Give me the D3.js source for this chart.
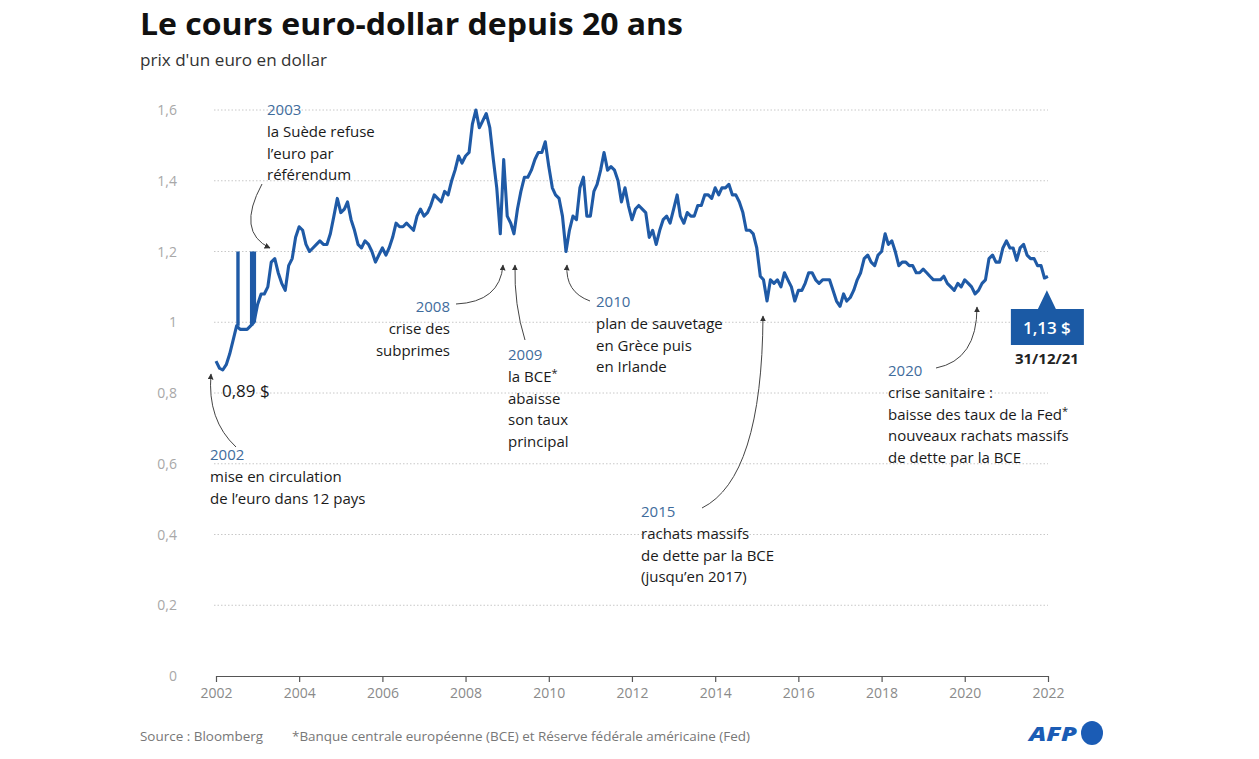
<!DOCTYPE html>
<html><head><meta charset="utf-8">
<script src="https://cdn.jsdelivr.net/npm/d3@7"></script>
<style>body{margin:0;background:#fff}svg{display:block}</style>
</head><body><svg id="c" width="1259" height="759"></svg>
<script>
// ---------- DATA ----------
const firstMonth = "2002-01-01";
const rates = [
 0.89,0.87,0.865,0.88,0.91,0.95,0.99,0.98,0.98,0.98,0.99,1.00,
 1.05,1.08,1.08,1.10,1.17,1.18,1.14,1.11,1.09,1.16,1.18,1.24,
 1.27,1.26,1.22,1.20,1.21,1.22,1.23,1.22,1.22,1.25,1.30,1.35,
 1.31,1.32,1.34,1.29,1.26,1.22,1.21,1.23,1.22,1.20,1.17,1.19,
 1.21,1.19,1.21,1.24,1.28,1.27,1.27,1.28,1.27,1.26,1.30,1.32,
 1.30,1.31,1.33,1.36,1.35,1.34,1.37,1.36,1.40,1.43,1.47,1.45,
 1.47,1.48,1.56,1.60,1.55,1.57,1.59,1.55,1.46,1.38,1.25,1.46,
 1.30,1.28,1.25,1.32,1.37,1.41,1.41,1.43,1.46,1.48,1.48,1.51,
 1.44,1.38,1.36,1.35,1.30,1.20,1.26,1.30,1.29,1.38,1.41,1.30,
 1.30,1.37,1.39,1.43,1.48,1.43,1.44,1.43,1.40,1.34,1.38,1.33,
 1.29,1.32,1.33,1.32,1.31,1.24,1.26,1.22,1.26,1.29,1.30,1.28,
 1.32,1.36,1.30,1.28,1.31,1.30,1.30,1.33,1.33,1.36,1.36,1.35,
 1.38,1.36,1.38,1.38,1.39,1.36,1.36,1.34,1.31,1.26,1.26,1.25,
 1.21,1.13,1.12,1.06,1.12,1.11,1.12,1.10,1.14,1.12,1.10,1.06,
 1.09,1.09,1.11,1.14,1.14,1.12,1.11,1.12,1.12,1.12,1.09,1.06,
 1.045,1.08,1.06,1.07,1.09,1.12,1.14,1.18,1.19,1.17,1.16,1.19,
 1.20,1.25,1.22,1.23,1.20,1.16,1.17,1.17,1.16,1.16,1.14,1.14,
 1.15,1.14,1.13,1.12,1.12,1.12,1.13,1.11,1.10,1.09,1.11,1.10,
 1.12,1.11,1.10,1.08,1.09,1.11,1.12,1.18,1.19,1.17,1.17,1.21,
 1.23,1.21,1.21,1.175,1.21,1.22,1.19,1.18,1.18,1.16,1.16,1.125
];
const lastDate = "2021-12-31";
const lastRate = 1.13;
const spikeDates = ["2002-07-13","2002-11-10","2002-12-04"];
const spikeBase = [0.99, 0.99, 1.00];
const spikeTop = 1.2;
const yTicks = [0,0.2,0.4,0.6,0.8,1,1.2,1.4,1.6];
const xTickYears = [2002,2004,2006,2008,2010,2012,2014,2016,2018,2020,2022];
const titleText = "Le cours euro-dollar depuis 20 ans";
const subtitleText = "prix d'un euro en dollar";
const sourceText = "Source : Bloomberg";
const noteText = "*Banque centrale européenne (BCE) et Réserve fédérale américaine (Fed)";
const startLabel = "0,89 $";
const endLabel = "1,13 $";
const endDateLabel = "31/12/21";
const annYears = ["2002","2003","2008","2009","2010","2015","2020"];
const annLines = [
 ["mise en circulation","de l\u2019euro dans 12 pays"],
 ["la Suède refuse","l\u2019euro par","référendum"],
 ["crise des","subprimes"],
 ["la BCE*","abaisse","son taux","principal"],
 ["plan de sauvetage","en Grèce puis","en Irlande"],
 ["rachats massifs","de dette par la BCE","(jusqu\u2019en 2017)"],
 ["crise sanitaire :","baisse des taux de la Fed*","nouveaux rachats massifs","de dette par la BCE"]
];

// ---------- LAYOUT ----------
const annLayout = [
 {x:210,y:460,anchor:"start", arrow:[[236,447],[207,420],[211,374]]},
 {x:267,y:115,anchor:"start", arrow:[[262,184],[236,232],[270,248]]},
 {x:450,y:312,anchor:"end",   arrow:[[456,304],[500,302],[503,265]]},
 {x:508,y:360,anchor:"start", arrow:[[525,340],[514,305],[515,265]]},
 {x:596,y:307,anchor:"start", arrow:[[590,301],[565,292],[567,265]]},
 {x:641,y:517,anchor:"start", arrow:[[702,508],[762,478],[763,316]]},
 {x:888,y:376,anchor:"start", arrow:[[936,368],[977,360],[977,307]]}
];
const lineH = 21.8;
const blue = "#1f5aa6", yearBlue = "#3f6c9c", ink = "#1a1a1a";
const FONT = "'Open Sans', 'Noto Sans', sans-serif";

const svg = d3.select("#c");
const parse = d3.utcParse("%Y-%m-%d");
const x = d3.scaleUtc().domain([parse("2002-01-01"), parse("2022-01-01")]).range([216,1048]);
const y = d3.scaleLinear().domain([0,1.6]).range([676,110]);

const series = rates.map((v,i)=>({date:d3.utcMonth.offset(parse(firstMonth), i), v}));
series.push({date:parse(lastDate), v:lastRate});

svg.append("defs").append("marker").attr("id","ah").attr("viewBox","0 0 10 10")
 .attr("refX",9).attr("refY",5).attr("markerWidth",6).attr("markerHeight",6)
 .attr("orient","auto").attr("markerUnits","userSpaceOnUse")
 .append("path").attr("d","M0,0L10,5L0,10z").attr("fill","#333");

// title
svg.append("text").attr("x",140).attr("y",35).text(titleText)
 .attr("font-family",FONT).attr("font-weight",700).attr("font-size",30).attr("fill","#111")
 .attr("textLength",543).attr("lengthAdjust","spacingAndGlyphs");
svg.append("text").attr("x",140).attr("y",66).text(subtitleText)
 .attr("font-family",FONT).attr("font-size",15.5).attr("fill","#333")
 .attr("textLength",187).attr("lengthAdjust","spacingAndGlyphs");

// grid
svg.append("g").selectAll("line").data(yTicks.filter(d=>d>0)).join("line")
 .attr("x1",214).attr("x2",1048).attr("y1",d=>y(d)).attr("y2",d=>y(d))
 .attr("stroke","#c8c8c8").attr("stroke-width",1).attr("stroke-dasharray","1.5,2");

// y labels
svg.append("g").selectAll("text").data(yTicks).join("text")
 .attr("x",177).attr("y",d=>y(d)+5).attr("text-anchor","end")
 .attr("font-family",FONT).attr("font-size",14).attr("fill","#a8a8a8")
 .text(d=>d3.format(".1f")(d).replace(/\.0$/,"").replace(".",","));

// x axis
const xAxis = d3.axisBottom(x).tickValues(xTickYears.map(yr=>parse(yr+"-01-01")))
 .tickFormat(d3.utcFormat("%Y")).tickSize(6).tickSizeOuter(0);
const gx = svg.append("g").attr("transform",`translate(0,${y(0)})`).call(xAxis);
gx.select(".domain").attr("stroke","#555").attr("stroke-width",1.2);
gx.selectAll(".tick line").attr("stroke","#555").attr("stroke-width",1.2);
gx.selectAll(".tick text").attr("font-family",FONT).attr("font-size",14).attr("fill","#8a8a8a").attr("dy","0.95em");

// spikes
svg.append("g").selectAll("line").data(spikeDates.map((d,i)=>({date:parse(d),b:spikeBase[i]}))).join("line")
 .attr("x1",d=>x(d.date)).attr("x2",d=>x(d.date)).attr("y1",d=>y(d.b)).attr("y2",y(spikeTop))
 .attr("stroke",blue).attr("stroke-width",3.4);

// line
svg.append("path").datum(series)
 .attr("d",d3.line().x(d=>x(d.date)).y(d=>y(d.v)))
 .attr("fill","none").attr("stroke",blue).attr("stroke-width",3.1).attr("stroke-linejoin","round");

// annotations
function addText(g, t, xx, yy, anchor, fill){
  const el = g.append("text").attr("x",xx).attr("y",yy).attr("text-anchor",anchor)
   .attr("font-family",FONT).attr("font-size",15).attr("fill",fill);
  if (t.endsWith("*")) {
    el.append("tspan").text(t.slice(0,-1));
    el.append("tspan").attr("dy",-5).attr("font-size",11).text("*");
  } else el.text(t);
}
annLayout.forEach((L,i)=>{
  const g = svg.append("g");
  addText(g, annYears[i], L.x, L.y, L.anchor, yearBlue);
  annLines[i].forEach((t,j)=> addText(g, t, L.x, L.y+lineH*(j+1), L.anchor, ink));
  const [s,c,e] = L.arrow;
  g.append("path").attr("d",`M${s[0]},${s[1]}Q${c[0]},${c[1]} ${e[0]},${e[1]}`)
   .attr("fill","none").attr("stroke","#444").attr("stroke-width",1)
   .attr("marker-end","url(#ah)");
});

// start label
svg.append("text").attr("x",222).attr("y",397).text(startLabel)
 .attr("font-family",FONT).attr("font-size",17).attr("fill",ink);

// end box
const bx = x(parse(lastDate)) - 1, ey = y(lastRate);
const by = 309;
svg.append("path").attr("d",`M${bx-36},${by}H${bx-9}L${bx},${ey+14}L${bx+9},${by}H${bx+37}V${by+36}H${bx-36}Z`)
 .attr("fill","#1b5aa5");
svg.append("text").attr("x",bx).attr("y",by+25).attr("text-anchor","middle")
 .attr("font-family",FONT).attr("font-size",17).attr("font-weight",600).attr("fill","#fff").text(endLabel);
svg.append("text").attr("x",bx).attr("y",by+55).attr("text-anchor","middle")
 .attr("font-family",FONT).attr("font-size",15).attr("font-weight",700).attr("fill","#222").text(endDateLabel);

// footer
svg.append("text").attr("x",140).attr("y",741).text(sourceText)
 .attr("font-family",FONT).attr("font-size",13).attr("fill","#777")
 .attr("textLength",123).attr("lengthAdjust","spacingAndGlyphs");
svg.append("text").attr("x",292).attr("y",741).text(noteText)
 .attr("font-family",FONT).attr("font-size",13).attr("fill","#777")
 .attr("textLength",458).attr("lengthAdjust","spacingAndGlyphs");
// AFP logo
svg.append("text").attr("x",1029).attr("y",741).text("AFP")
 .attr("font-family",FONT).attr("font-size",19).attr("font-weight",800).attr("font-style","italic")
 .attr("fill","#1b5cb5").attr("textLength",48).attr("lengthAdjust","spacingAndGlyphs");
svg.append("ellipse").attr("cx",1092).attr("cy",733).attr("rx",11).attr("ry",12).attr("fill","#1b5cb5");
</script></body></html>
